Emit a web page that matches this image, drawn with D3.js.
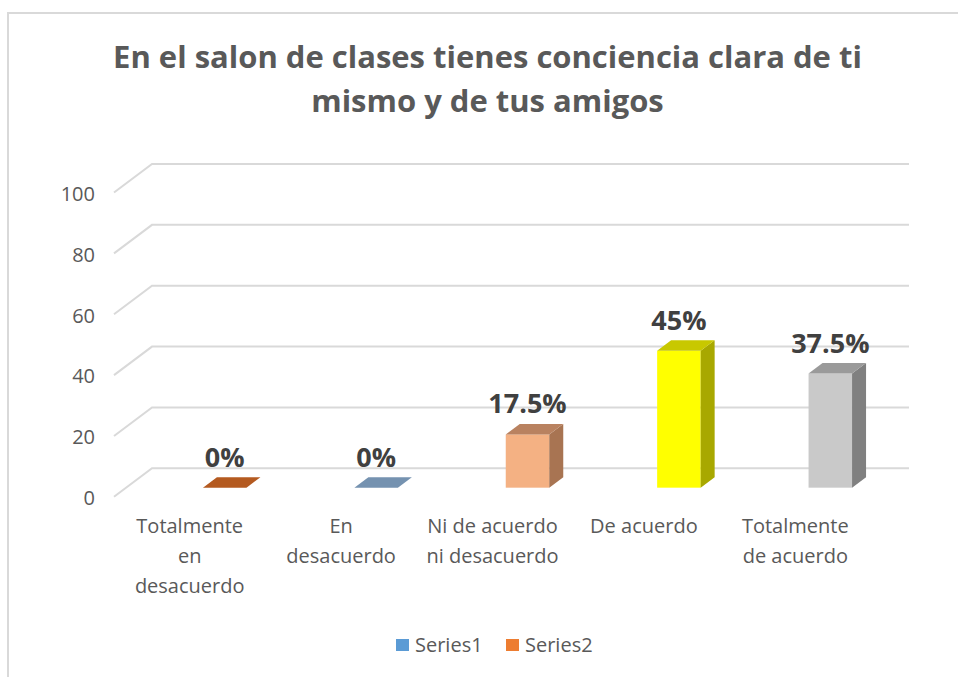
<!DOCTYPE html>
<html>
<head>
<meta charset="utf-8">
<script src="https://cdn.jsdelivr.net/npm/d3@7"></script>
<style>
  html, body { margin: 0; padding: 0; background: #fff; }
  svg { display: block; }
  text { font-family: "Open Sans", "Noto Sans", sans-serif; }
</style>
</head>
<body>
<svg id="chart" width="958" height="677"></svg>
<script>
// ---- data ----
const titleLines = ["En el salon de clases tienes conciencia clara de ti", "mismo y de tus amigos"];
const categories = [
  ["Totalmente", "en", "desacuerdo"],
  ["En", "desacuerdo"],
  ["Ni de acuerdo", "ni desacuerdo"],
  ["De acuerdo"],
  ["Totalmente", "de acuerdo"]
];
const values = [0, 0, 17.5, 45, 37.5];
const valueLabels = ["0%", "0%", "17.5%", "45%", "37.5%"];
const yTicks = [0, 20, 40, 60, 80, 100];
const legendNames = ["Series1", "Series2"];

// ---- styles ----
const barColors = [
  { front: "#C55A11", top: "#B45A20", side: "#8E4310" },
  { front: "#8EA9C8", top: "#7592B0", side: "#5F7C99" },
  { front: "#F4B183", top: "#B98260", side: "#A87452" },
  { front: "#FFFF00", top: "#C8C800", side: "#A8A800" },
  { front: "#C9C9C9", top: "#9A9A9A", side: "#808080" }
];
const legendColors = ["#5B9BD5", "#ED7D31"];
const gridColor = "#D9D9D9";
const textColor = "#595959";

const svg = d3.select("#chart");

// border
svg.append("path")
  .attr("d", "M8,677 V13 H958")
  .attr("fill", "none").attr("stroke", "#D9D9D9").attr("stroke-width", 2);

// geometry of the 3D box
const frontLeft = 114, frontRight = 871;
const depthDx = 38, depthDy = -28.5;

const y = d3.scaleLinear().domain([0, 100]).range([496.8, 192.5]);
const x = d3.scaleBand().domain(d3.range(categories.length)).range([frontLeft, frontRight]);

// gridlines (back wall + left wall diagonal)
const grid = svg.append("g");
yTicks.forEach(t => {
  const yf = y(t), yb = y(t) + depthDy;
  grid.append("path")
    .attr("d", `M${frontLeft},${yf} L${frontLeft + depthDx},${yb} H${frontRight + depthDx}`)
    .attr("fill", "none").attr("stroke", gridColor).attr("stroke-width", 2);
});

// y tick labels
const yAxis = d3.axisLeft(y).tickValues(yTicks).tickSize(0).tickPadding(0);
const ya = svg.append("g").attr("transform", `translate(95,1.5)`).call(yAxis);
ya.select(".domain").remove();
ya.selectAll("text").attr("font-size", 20).attr("fill", textColor)
  .style("font-family", '"Open Sans", sans-serif');

// bars
const barW = 43.5, barShift = 35;
const frontDepthFrac = 0.32;
const bdx = 14, bdy = -10.5;
const bars = svg.append("g");
values.forEach((v, i) => {
  const cx = x(i) + x.bandwidth() / 2 + barShift;
  const xl = cx - barW / 2, xr = cx + barW / 2;
  const off = frontDepthFrac * depthDy;
  const yb = y(0) + off, yt = y(v) + off;
  const c = barColors[i];
  if (v > 0) {
    bars.append("rect").attr("x", xl).attr("y", yt).attr("width", barW).attr("height", yb - yt)
      .attr("fill", c.front);
    bars.append("path")
      .attr("d", `M${xr},${yt} L${xr + bdx},${yt + bdy} L${xr + bdx},${yb + bdy} L${xr},${yb} Z`)
      .attr("fill", c.side);
  }
  bars.append("path")
    .attr("d", `M${xl},${yt} L${xr},${yt} L${xr + bdx},${yt + bdy} L${xl + bdx},${yt + bdy} Z`)
    .attr("fill", c.top);
  svg.append("text")
    .attr("x", cx).attr("y", yt - 21)
    .attr("text-anchor", "middle")
    .attr("font-size", 27).attr("font-weight", "bold").attr("fill", "#404040")
    .text(valueLabels[i]);
});

// category labels
categories.forEach((lines, i) => {
  const t = svg.append("text")
    .attr("x", x(i) + x.bandwidth() / 2)
    .attr("y", 533)
    .attr("text-anchor", "middle")
    .attr("font-size", 20).attr("fill", textColor);
  lines.forEach((ln, k) => {
    t.append("tspan").attr("x", x(i) + x.bandwidth() / 2).attr("dy", k === 0 ? 0 : 30).text(ln);
  });
});

// title
const title = svg.append("g");
const t1 = title.append("text").attr("x", 487.5).attr("y", 68)
  .attr("text-anchor", "middle").attr("font-weight", "bold").attr("fill", textColor)
  .attr("font-size", 30).text(titleLines[0]);
const w = t1.node().getComputedTextLength();
const fs = 30 * 749 / w;
t1.attr("font-size", fs);
title.append("text").attr("x", 487.5).attr("y", 112)
  .attr("text-anchor", "middle").attr("font-weight", "bold").attr("fill", textColor)
  .attr("font-size", fs).text(titleLines[1]);

// legend
const legendX = [396, 506];
legendNames.forEach((name, i) => {
  svg.append("rect").attr("x", legendX[i]).attr("y", 639).attr("width", 13).attr("height", 12)
    .attr("fill", legendColors[i]);
  svg.append("text").attr("x", legendX[i] + 19).attr("y", 652)
    .attr("font-size", 20).attr("fill", textColor).text(name);
});
</script>
</body>
</html>
